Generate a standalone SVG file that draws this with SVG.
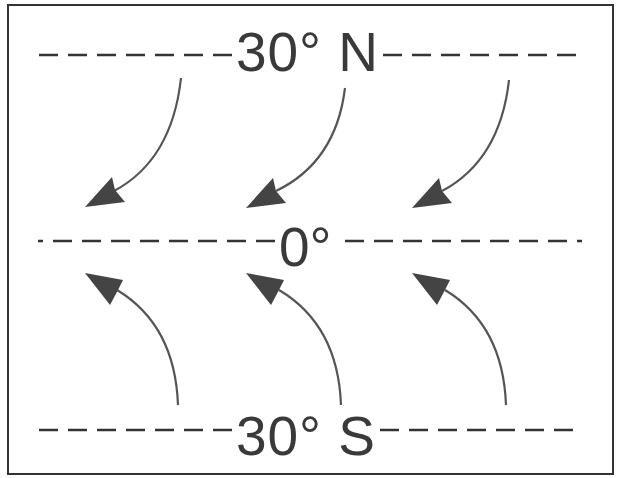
<svg xmlns="http://www.w3.org/2000/svg" width="617" height="478" viewBox="0 0 617 478">
<style>
.frame{fill:none;stroke:#333;stroke-width:2}
.dash{stroke:#333;stroke-width:2.5;stroke-dasharray:19 10;fill:none}
.lbl{font-family:"Liberation Sans",Arial,sans-serif;font-size:55px;fill:#3a3a3a}
.cur{fill:none;stroke:#555;stroke-width:2.2}
.head{fill:#444}
</style>
<defs>
<path id="hd" class="head" d="M0,0 L27,-30 L30,-17 L40,-5 Z"/>
<path id="hu" class="head" d="M0,0 L38,7 L33,17 L25,32 Z"/>
</defs>
<rect class="frame" x="8" y="5" width="605" height="469"/>
<g id="connectors">
<path class="dash" d="M232,55 L38,55"/>
<path class="dash" d="M383,55 L582,55"/>
<path class="dash" d="M275,241 L38,241"/>
<path class="dash" d="M345,241 L582,241"/>
<path class="dash" d="M232,430 L36,430"/>
<path class="dash" d="M380,430 L580,430"/>
<path class="cur" d="M181,78 Q172,160 114,191"/>
<use href="#hd" x="85" y="207"/>
<path class="cur" d="M345,88 Q336,162 276,191"/>
<use href="#hd" x="246" y="208"/>
<path class="cur" d="M509,80 Q500,160 442,191"/>
<use href="#hd" x="412" y="208"/>
<path class="cur" d="M178,405 Q175,325 117,290"/>
<use href="#hu" x="85" y="273"/>
<path class="cur" d="M341,405 Q338,325 279,290"/>
<use href="#hu" x="246" y="273"/>
<path class="cur" d="M506,405 Q503,325 445,290"/>
<use href="#hu" x="412" y="273"/>
</g>
<g id="n30N"><text class="lbl" x="236" y="71" textLength="142">30° N</text></g>
<g id="n0"><text class="lbl" x="279" y="266">0°</text></g>
<g id="n30S"><text class="lbl" x="236" y="455" textLength="139">30° S</text></g>
</svg>
